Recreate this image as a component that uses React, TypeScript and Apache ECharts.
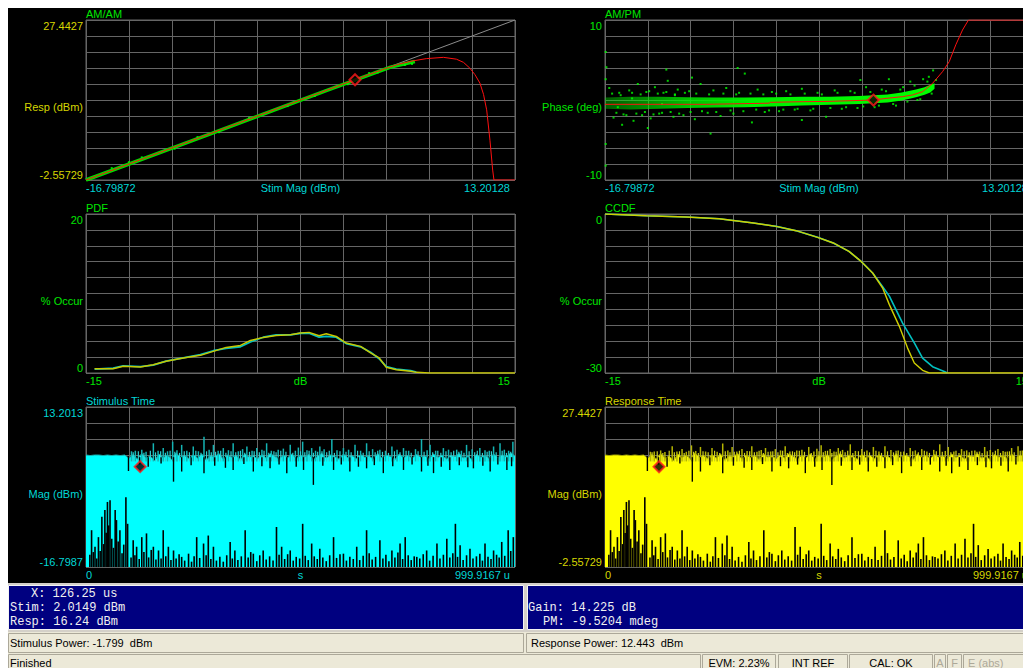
import React, { useEffect, useRef } from 'react';
import * as echarts from 'echarts';

const FONT = "'Liberation Sans', Arial, sans-serif";
const MONO = "'Liberation Mono', 'Courier New', monospace";
const GREEN = '#00e600';
const YELLOW = '#d6d600';
const CYAN = '#00d6d6';
const GRID_COLOR = '#666666';

// ---------- panel texts ----------
const PANEL_TITLES = ['AM/AM', 'AM/PM', 'PDF', 'CCDF', 'Stimulus Time', 'Response Time'];
const X_MIN = [-16.79872, -16.79872, -15, -15, 0, 0];
const X_MAX = [13.20128, 13.20128, 15, 15, 999.9167, 999.9167];
const X_MIN_LABELS = ['-16.79872', '-16.79872', '-15', '-15', '0', '0'];
const X_MAX_LABELS = ['13.20128', '13.20128', '15', '15', '999.9167 u', '999.9167 u'];
const X_NAMES = ['Stim Mag (dBm)', 'Stim Mag (dBm)', 'dB', 'dB', 's', 's'];
const Y_MIN = [-2.55729, -10, 0, -30, -16.7987, -2.55729];
const Y_MAX = [27.4427, 10, 20, 0, 13.2013, 27.4427];
const Y_MIN_LABELS = ['-2.55729', '-10', '0', '-30', '-16.7987', '-2.55729'];
const Y_MAX_LABELS = ['27.4427', '10', '20', '0', '13.2013', '27.4427'];
const Y_NAMES = ['Resp (dBm)', 'Phase (deg)', '% Occur', '% Occur', 'Mag (dBm)', 'Mag (dBm)'];
// [title, y labels, x labels]
const PANEL_COLORS = [
  [GREEN, YELLOW, CYAN],
  [GREEN, GREEN, CYAN],
  [GREEN, GREEN, GREEN],
  [GREEN, GREEN, GREEN],
  [CYAN, CYAN, CYAN],
  [YELLOW, YELLOW, YELLOW],
];

// ---------- marker readout ----------
const MARKER_TIME_US = 126.25;
const MARKER_STIM_DBM = 2.0149;
const MARKER_RESP_DBM = 16.24;
const MARKER_PM_DEG = -0.0095204;

// ---------- AM/AM ----------
const AMAM_IDEAL = [[-16.79872, -2.55729], [13.20128, 27.4427]];
const AMAM_MEASURED = [[-16.79872, -2.55729], [-8, 6.2], [0, 14.2], [4.5, 18.6], [6.2, 19.65]];
const AMAM_OUTLIERS = [
  [-15.0, -0.3], [-12.9, 1.7], [-10.6, 3.3], [-9.0, 5.5], [-7.5, 6.4], [-5.4, 9.1], [-2.7, 11.3],
  [-0.8, 13.2], [1.5, 15.4], [3.0, 17.5], [3.6, 17.6], [5.5, 19.0], [6.0, 19.2], [-13.8, 0.8],
];
const AMAM_MODEL = [
  [-16.79872, -2.55729], [-10, 4.24], [0, 14.24], [2.0, 16.24], [4.0, 18.2], [5.0, 19.1], [6.0, 19.75],
  [7.0, 20.2], [8.2, 20.44], [9.1, 20.1], [9.6, 19.5], [10.05, 18.4], [10.4, 17.2], [10.75, 15.6],
  [11.0, 13.5], [11.22, 10.6], [11.45, 4.9], [11.64, -0.7], [11.73, -2.55729], [13.20128, -2.55729],
];

// ---------- AM/PM ----------
const AMPM_MODEL = [
  [-16.79872, -0.54], [-9.7, -0.54], [-5.3, -0.4], [-5.2, -0.29], [-2.9, -0.21], [-1.1, -0.17],
  [0.6, -0.08], [1.97, 0], [2.9, 0.2], [4.06, 0.42], [4.76, 0.63], [5.46, 1.04], [6.16, 2.08],
  [6.86, 3.54], [7.33, 4.8], [7.79, 6.9], [8.26, 8.75], [8.68, 10], [13.20128, 10],
];
const AMPM_BAND_X = [-16.79872, -15, -13, -11, -9, -7, -5, -3, -1, 1, 2, 3, 4, 5, 5.6, 6.0, 6.3];
const AMPM_BAND_HI = [0.3, 0.4, 0.4, 0.35, 0.3, 0.3, 0.35, 0.4, 0.4, 0.5, 0.6, 0.7, 0.95, 1.3, 1.6, 1.9, 2.1];
const AMPM_BAND_LO = [-1.1, -1.2, -1.1, -1.0, -0.95, -0.9, -0.8, -0.7, -0.6, -0.5, -0.4, -0.3, -0.05, 0.35, 0.65, 0.95, 1.4];
const AMPM_SCATTER = [
  [-16.5, 1.5], [-16.2, -2.2], [-15.8, 0.9], [-15.5, -1.8], [-15.1, 1.2], [-14.8, -2.6], [-14.5, 2.0],
  [-14.2, -1.9], [-13.9, 1.0], [-13.6, -2.3], [-13.3, 1.6], [-13.0, -1.7], [-12.7, 0.9], [-12.4, 2.4],
  [-12.0, -2.1], [-11.7, 1.3], [-11.3, -1.9], [-10.9, 1.1], [-10.5, -2.4], [-10.1, 2.0], [-9.6, -1.6],
  [-9.2, 1.2], [-8.7, -2.0], [-8.3, 1.5], [-7.8, -1.7], [-7.4, 0.9], [-7.0, 3.3], [-6.5, -2.8],
  [-6.1, 1.3], [-5.6, -1.5], [-5.1, 1.0], [-4.6, -1.4], [-4.1, 1.1], [-3.5, -1.2], [-3.0, 1.4],
  [-2.4, -1.3], [-1.9, 0.9], [-1.3, -2.1], [-0.7, 1.2], [-0.2, -1.1], [0.4, 1.1], [0.9, -1.0],
  [1.5, 1.6], [2.1, -0.9], [2.6, 1.3], [3.1, 2.6], [3.6, -0.7], [4.1, 1.6], [4.6, 2.3], [5.1, 0.0],
  [5.5, 2.6], [5.9, 2.9], [6.2, 3.7], [-16.7, 4.1], [-12.5, 3.8], [-7.5, 4.0], [-13.8, -3.5],
  [-9.4, -4.2], [-15.6, -3.1], [-3.0, -2.5], [1.1, 2.5], [-10.7, 2.8], [-16.75, -5.5], [-16.75, -8.2],
  [-16.75, 6.0], [-16.75, 2.6], [-14.9, 0.2], [-11.9, 0.6], [-15.9, -0.9], [-12.8, -0.5],
  [-16.3, 0.8], [-16.0, -1.6], [-15.7, 0.6], [-15.3, -1.9], [-14.9, 0.9], [-14.6, -1.7], [-14.3, 0.7],
  [-14.0, -1.5], [-13.7, 1.1], [-13.4, -1.8], [-13.1, 0.8], [-12.8, -1.6], [-12.5, 1.0], [-12.2, -1.5],
  [-11.9, 0.7], [-11.6, -1.7], [-11.2, 0.9], [-10.8, -1.5], [-10.4, 0.8], [-10.0, -1.4], [-9.5, 0.7],
  [-9.0, -1.5], [-8.5, 0.8], [-8.0, -1.3], [-7.6, 0.7], [-7.1, -1.4], [-6.6, 0.8], [-6.2, -1.2],
  [-5.7, 0.7], [-5.3, -1.3], [-4.8, 0.8], [-4.3, -1.2], [-3.8, 0.7], [-3.3, -1.1], [-2.8, 0.8],
  [-2.2, -1.1], [-1.6, 0.7], [-1.0, -1.0], [-0.5, 0.9], [0.1, -0.9], [0.7, 0.9], [1.3, -0.8],
  [1.8, 1.0], [2.4, -0.7], [2.9, 1.1], [3.4, -0.5], [3.9, 1.3], [4.4, -0.2], [4.9, 1.8], [5.3, 0.1],
  [5.8, 2.3], [6.1, 0.8], [6.4, 2.5],
];

// ---------- PDF ----------
const PDF_X = [-14.4, -13.1, -12.4, -11.2, -10.3, -9.4, -8.2, -7.0, -6.1, -5.2, -4.2, -3.5, -2.6, -1.7, -0.7,
  0.0, 0.6, 1.3, 1.8, 2.5, 3.2, 4.2, 4.9, 5.5, 6.0, 6.7, 7.7, 8.1, 9.0, 15];
const PDF_STIM = [0.5, 0.6, 0.9, 0.8, 1.0, 1.5, 1.9, 2.3, 2.8, 3.1, 3.3, 3.9, 4.5, 4.8, 4.8,
  5.0, 5.0, 4.5, 4.6, 4.5, 3.7, 3.3, 2.6, 1.8, 0.8, 0.5, 0.3, 0.1];
const PDF_RESP = [0.54, 0.54, 0.84, 0.75, 1.05, 1.47, 1.89, 2.22, 2.72, 3.22, 3.47, 4.1, 4.48, 4.73, 4.82,
  5.03, 5.11, 4.69, 4.94, 4.6, 3.77, 3.35, 2.52, 1.89, 0.71, 0.42, 0.21, 0.08, 0, 0];

// ---------- CCDF ----------
const CCDF_STIM = [
  [-15, 0], [-12.1, -0.32], [-9.3, -0.57], [-7.0, -0.89], [-4.6, -1.7], [-3.0, -2.33], [-1.6, -3.15],
  [-0.1, -4.4], [1.0, -5.47], [2.1, -7.05], [2.95, -8.94], [3.76, -11.13], [4.46, -13.7], [4.93, -15.5],
  [5.86, -20.6], [6.68, -24.3], [7.26, -27.2], [7.96, -28.8], [8.78, -29.7], [9.0, -30],
];
const CCDF_RESP = [
  [-15, 0], [-12.1, -0.32], [-9.3, -0.57], [-7.0, -0.89], [-4.6, -1.7], [-3.0, -2.33], [-1.6, -3.15],
  [-0.1, -4.4], [1.0, -5.47], [2.1, -7.05], [2.95, -8.94], [3.76, -11.13], [4.46, -13.96], [4.93, -17.1],
  [5.63, -21.2], [6.21, -25.3], [6.68, -28.1], [7.26, -29.5], [7.73, -30], [15, -30],
];

// ---------- time records (10 us per sample) ----------
const SAMPLE_STEP_US = 10;
const GAIN_DB = 14.24;
const STIM_TOP = [
  4.2, 4.1, 4.2, 4.2, 4.1, 4.2, 4.1, 4.2, 4.1, 4.2,
  3.6, 4.3, 3.4, 4.5, 3.6, 4.0, 3.1, 4.4, 3.7, 4.2,
  3.3, 4.6, 3.8, 4.1, 3.5, 4.3, 3.6, 4.4, 3.2, 4.0,
  3.9, 4.5, 3.4, 4.2, 3.7, 4.1, 3.3, 4.4, 3.8, 4.0,
  3.5, 4.3, 3.6, 4.5, 3.9, 3.4, 4.2, 3.7, 4.4, 3.5,
  4.1, 3.8, 4.3, 3.3, 4.0, 4.5, 3.6, 4.2, 3.9, 3.4,
  4.4, 3.7, 4.1, 3.5, 4.3, 3.8, 4.0, 3.4, 4.5, 3.6,
  4.2, 3.9, 3.3, 4.4, 3.7, 4.1, 3.6, 4.3, 3.8, 4.0,
  3.5, 4.4, 3.7, 4.2, 3.4, 4.1, 3.9, 4.5, 3.6, 4.0,
  3.3, 4.3, 3.8, 4.1, 3.5, 4.4, 3.7, 4.2, 3.9, 4.6, 4.0,
];
const STIM_PEAKS = [
  [106, 4.9], [115, 5.0], [130, 5.2], [140, 4.8], [157, 6.4], [168, 5.0], [180, 5.5], [190, 4.9], [202, 6.7],
  [212, 5.1], [223, 6.1], [235, 5.0], [250, 5.8], [262, 4.9], [275, 7.6], [287, 5.2], [297, 6.1], [308, 5.0],
  [320, 5.5], [332, 5.1], [343, 6.4], [355, 4.9], [365, 5.3], [375, 5.8], [387, 5.0], [398, 5.5], [410, 5.2],
  [421, 6.4], [432, 5.0], [448, 5.2], [460, 5.4], [476, 6.1], [488, 5.0], [495, 5.6], [505, 6.7], [515, 5.1],
  [526, 5.5], [535, 5.0], [545, 5.8], [555, 5.3], [573, 7.2], [585, 5.1], [600, 5.5], [612, 5.2], [627, 6.1],
  [640, 5.0], [654, 6.4], [668, 5.3], [685, 5.2], [698, 5.0], [713, 5.8], [725, 5.2], [740, 5.5], [752, 5.0],
  [768, 5.3], [782, 7.2], [795, 5.1], [802, 6.1], [815, 5.0], [833, 5.5], [845, 5.2], [864, 5.2], [875, 5.0],
  [887, 6.1], [900, 5.3], [918, 5.5], [930, 5.1], [940, 5.0], [950, 5.8], [965, 6.4], [975, 5.2], [985, 5.0],
  [995, 6.7],
];
// short spikes just above the envelope (linear region of the amplifier)
const STIM_SMALL_PEAKS = [
  [110, 4.7], [122, 4.9], [135, 4.6], [150, 5.0], [162, 4.7], [174, 4.9], [185, 4.6], [196, 5.0], [207, 4.8],
  [218, 4.6], [229, 4.9], [241, 4.7], [256, 5.0], [268, 4.6], [281, 4.9], [292, 4.7], [302, 4.8], [314, 5.0],
  [326, 4.6], [338, 4.9], [349, 4.7], [360, 5.0], [370, 4.6], [381, 4.8], [392, 4.9], [404, 4.7], [415, 5.0],
  [426, 4.6], [438, 4.9], [443, 4.7], [454, 5.0], [466, 4.8], [482, 4.6], [500, 4.9], [510, 4.7], [520, 5.0],
  [530, 4.6], [540, 4.8], [550, 4.9], [561, 4.7], [567, 5.0], [579, 4.6], [592, 4.9], [606, 4.8], [618, 4.7],
  [633, 5.0], [646, 4.6], [660, 4.9], [674, 4.7], [680, 5.0], [691, 4.8], [705, 4.6], [719, 4.9], [732, 4.7],
  [746, 5.0], [758, 4.6], [774, 4.9], [788, 4.8], [808, 4.7], [820, 5.0], [827, 4.6], [839, 4.9], [851, 4.7],
  [857, 5.0], [869, 4.8], [881, 4.6], [893, 4.9], [906, 4.7], [912, 5.0], [924, 4.6], [935, 4.8], [945, 4.9],
  [956, 4.7], [970, 5.0], [980, 4.6], [990, 4.8],
];
const RESP_PEAKS = [
  [106, 19.05], [115, 19.1], [130, 19.3], [140, 19.0], [157, 20.1], [168, 19.1], [180, 19.55], [190, 19.05], [202, 20.25],
  [212, 19.2], [223, 19.95], [235, 19.1], [250, 19.75], [262, 19.05], [275, 20.6], [287, 19.3], [297, 19.95], [308, 19.1],
  [320, 19.55], [332, 19.2], [343, 20.1], [355, 19.05], [365, 19.4], [375, 19.75], [387, 19.1], [398, 19.55], [410, 19.3],
  [421, 20.1], [432, 19.1], [448, 19.3], [460, 19.45], [476, 19.95], [488, 19.1], [495, 19.6], [505, 20.25], [515, 19.2],
  [526, 19.55], [535, 19.1], [545, 19.75], [555, 19.4], [573, 20.45], [585, 19.2], [600, 19.55], [612, 19.3], [627, 19.95],
  [640, 19.1], [654, 20.1], [668, 19.4], [685, 19.3], [698, 19.1], [713, 19.75], [725, 19.3], [740, 19.55], [752, 19.1],
  [768, 19.4], [782, 20.45], [795, 19.2], [802, 19.95], [815, 19.1], [833, 19.55], [845, 19.3], [864, 19.3], [875, 19.1],
  [887, 19.95], [900, 19.4], [918, 19.55], [930, 19.2], [940, 19.1], [950, 19.75], [965, 20.1], [975, 19.3], [985, 19.1],
  [995, 20.25],
];
const STIM_DIPS = [
  [99, 1.2], [125, 2.4], [145, 2.0], [175, 2.6], [204, -0.8], [223, 1.1], [245, 2.3], [275, 0.8], [300, 2.2],
  [325, 1.8], [343, 1.4], [368, 2.5], [390, 1.1], [410, 2.1], [429, 1.7], [450, 2.4], [468, 0.8], [490, 2.0],
  [507, 1.4], [530, -1.4], [552, 2.2], [577, 1.4], [595, 2.4], [615, 1.1], [635, 2.0], [654, 1.7], [672, 2.3],
  [693, 0.8], [715, 2.1], [740, 1.4], [760, 2.4], [782, 1.1], [797, 2.2], [810, 0.8], [828, 2.0], [848, 1.4],
  [870, 2.3], [890, 1.9], [903, 1.7], [925, 2.2], [942, 1.1], [960, 2.4], [981, 1.4], [992, 2.1],
];
const STIM_FLOOR_SPIKES = [
  [9, -14.5], [13, -9.9], [17, -14.0], [21, -13.0], [25, -15.2], [29, -11.2], [33, -13.8], [37, -7.4], [41, -12.5],
  [44, -6.1], [47, -10.4], [50, -4.6], [53, -9.0], [56, -4.3], [60, -11.5], [64, -13.2], [68, -6.1], [71, -8.0],
  [75, -12.0], [79, -9.9], [84, -14.2], [88, -12.6], [93, -3.7], [97, -8.7],
  [105, -15.0], [110, -11.8], [114, -14.6], [118, -13.0], [124, -15.3], [130, -11.2], [135, -14.0], [141, -10.5],
  [146, -15.0], [152, -13.6], [157, -13.0], [163, -15.4], [169, -13.7], [175, -15.2], [180, -9.9], [186, -14.8],
  [192, -13.0], [198, -15.5], [204, -13.7], [210, -15.2], [217, -14.4], [223, -14.9], [230, -15.6], [239, -14.3],
  [246, -15.8], [252, -14.8], [258, -11.2], [265, -15.1], [274, -12.4], [280, -14.6], [285, -10.9], [291, -15.3],
  [297, -13.0], [304, -15.6], [312, -14.9], [320, -15.8], [328, -14.6], [336, -12.1], [341, -15.2], [347, -13.7],
  [354, -15.5], [362, -14.8], [371, -9.9], [378, -15.0], [384, -14.0], [390, -14.3], [398, -15.7], [405, -14.6],
  [413, -13.7], [420, -15.4], [428, -14.8], [436, -15.6], [444, -9.3], [450, -14.5], [456, -13.0], [463, -15.3],
  [470, -14.4], [476, -13.7], [483, -15.6], [490, -14.9], [498, -15.2], [505, -8.7], [511, -14.7], [518, -15.5],
  [526, -12.4], [532, -14.8], [539, -15.3], [545, -13.4], [552, -15.0], [560, -15.7], [568, -14.6], [577, -11.2],
  [584, -15.1], [592, -14.4], [600, -14.3], [607, -15.6], [615, -14.9], [623, -15.3], [631, -13.0], [638, -15.5],
  [646, -14.7], [654, -9.9], [660, -14.2], [667, -15.4], [675, -14.9], [685, -11.8], [692, -15.2], [699, -14.5],
  [706, -15.7], [713, -13.7], [720, -15.0], [727, -14.1], [732, -12.4], [738, -15.3], [744, -11.2], [751, -14.6],
  [758, -15.5], [765, -14.8], [771, -14.9], [778, -15.2], [786, -14.4], [794, -13.7], [801, -15.6], [809, -14.7],
  [818, -12.4], [825, -15.2], [833, -14.5], [841, -11.5], [848, -15.0], [855, -14.2], [861, -8.7], [866, -14.9],
  [872, -12.7], [879, -15.5], [887, -14.6], [895, -13.4], [902, -15.2], [910, -14.8], [918, -14.3], [924, -15.6],
  [930, -12.4], [937, -14.9], [944, -15.3], [950, -13.7], [957, -14.5], [963, -15.0], [969, -12.1], [976, -14.7],
  [984, -9.9], [990, -13.8], [996, -11.2],
];

// ---------- readout texts ----------
const READOUT_LEFT = ['X: 126.25 us', 'Stim: 2.0149 dBm', 'Resp: 16.24 dBm'];
const READOUT_RIGHT = ['Gain: 14.225 dB', 'PM: -9.5204 mdeg'];
const POWER_TEXTS = ['Stimulus Power: -1.799  dBm', 'Response Power: 12.443  dBm'];
const STATUS_TEXTS = ['Finished', 'EVM: 2.23%', 'INT REF', 'CAL: OK', 'A', 'F', 'E (abs)'];

// ---------- layout ----------
const COL_LEFT = [78, 597];
const COL_WIDTH = [429, 428];
const ROW_TOP = [12, 206, 399];
const ROW_HEIGHT = [160, 159, 160];

function labelFormatter(min: number, max: number, minL: string, maxL: string) {
  return (v: number) => (Math.abs(v - min) < 1e-9 ? minL : Math.abs(v - max) < 1e-9 ? maxL : '');
}

function txt(x: number, y: number, text: string, fill: string, font: string, size: number, align = 'left') {
  return {
    type: 'text', x, y, silent: true, z: 50,
    style: { text, fill, fontSize: size, fontFamily: font, align, textAlign: align, verticalAlign: 'middle', textVerticalAlign: 'middle' },
  };
}
function rect(x: number, y: number, w: number, h: number, fill: string, stroke?: string) {
  return {
    type: 'rect', silent: true, z: 40, shape: { x, y, width: w, height: h },
    style: { fill, stroke: stroke || null, lineWidth: stroke ? 1 : 0 },
  };
}

function vlines(panel: number, data: number[][], from: number, color: string, width: number, z: number) {
  return {
    type: 'custom', xAxisIndex: panel * 2, yAxisIndex: panel * 2, data, encode: { x: 0, y: 1 },
    silent: true, clip: true, z,
    renderItem: (_p: any, api: any) => {
      const t = api.value(0);
      const a = api.coord([t, from]);
      const b = api.coord([t, api.value(1)]);
      return { type: 'line', shape: { x1: a[0], y1: a[1], x2: b[0], y2: b[1] }, style: { stroke: color, lineWidth: width } };
    },
  };
}

function lineS(panel: number, data: number[][], color: string, width: number, z = 3) {
  return {
    type: 'line', xAxisIndex: panel * 2, yAxisIndex: panel * 2, data, symbol: 'none', silent: true, z,
    lineStyle: { color, width }, clip: true,
  };
}
function markerS(panel: number, x: number, y: number) {
  return {
    type: 'scatter', xAxisIndex: panel * 2, yAxisIndex: panel * 2, data: [[x, y]], symbol: 'diamond', symbolSize: 11,
    silent: true, z: 20, itemStyle: { color: '#000', borderColor: '#ff1a1a', borderWidth: 2 },
  };
}

function buildOption() {
  const grid: any[] = [];
  const xAxis: any[] = [];
  const yAxis: any[] = [];
  const series: any[] = [];
  const graphic: any[] = [];

  for (let i = 0; i < 6; i++) {
    const col = i % 2;
    const row = Math.floor(i / 2);
    const left = COL_LEFT[col];
    const top = ROW_TOP[row];
    const width = COL_WIDTH[col];
    const height = ROW_HEIGHT[row];
    const [tc, yc, xc] = PANEL_COLORS[i];
    grid.push({
      left, top, width, height, show: true, borderColor: GRID_COLOR, borderWidth: 1, backgroundColor: 'transparent',
      containLabel: false, outerBoundsMode: 'none',
    });
    xAxis.push({
      type: 'value', gridIndex: i, min: X_MIN[i], max: X_MAX[i],
      axisLine: { show: false }, axisTick: { show: false }, splitLine: { show: false },
      axisLabel: {
        show: true, color: xc, fontSize: 11, fontFamily: FONT, margin: 2, padding: [0, 5, 0, 0],
        showMinLabel: true, showMaxLabel: true, alignMinLabel: 'left', alignMaxLabel: 'right',
        formatter: labelFormatter(X_MIN[i], X_MAX[i], X_MIN_LABELS[i], X_MAX_LABELS[i]),
      },
    });
    xAxis.push({
      type: 'value', gridIndex: i, min: 0, max: 10, interval: 1,
      axisLine: { show: false }, axisTick: { show: false }, axisLabel: { show: false },
      splitLine: { show: true, lineStyle: { color: GRID_COLOR, width: 1 } },
    });
    yAxis.push({
      type: 'value', gridIndex: i, min: Y_MIN[i], max: Y_MAX[i],
      axisLine: { show: false }, axisTick: { show: false }, splitLine: { show: false },
      axisLabel: {
        show: true, color: yc, fontSize: 11, fontFamily: FONT, margin: 3,
        showMinLabel: true, showMaxLabel: true, verticalAlignMinLabel: 'bottom', verticalAlignMaxLabel: 'top',
        formatter: labelFormatter(Y_MIN[i], Y_MAX[i], Y_MIN_LABELS[i], Y_MAX_LABELS[i]),
      },
    });
    yAxis.push({
      type: 'value', gridIndex: i, min: 0, max: 10, interval: 1,
      axisLine: { show: false }, axisTick: { show: false }, axisLabel: { show: false },
      splitLine: { show: true, lineStyle: { color: GRID_COLOR, width: 1 } },
    });
    graphic.push(txt(left, top - 6, PANEL_TITLES[i], tc, FONT, 11));
    graphic.push(txt(left + width / 2, top + height + 8, X_NAMES[i], xc, FONT, 11, 'center'));
    graphic.push(txt(left - 3, top + height / 2 + 7, Y_NAMES[i], yc, FONT, 11, 'right'));
  }

  // AM/AM (panel 0)
  series.push(lineS(0, AMAM_IDEAL, '#8c8c8c', 1, 2));
  series.push(lineS(0, AMAM_MEASURED, '#00dd00', 3.5, 3));
  series.push({
    type: 'scatter', xAxisIndex: 0, yAxisIndex: 0, data: AMAM_OUTLIERS, symbol: 'rect', symbolSize: 2,
    silent: true, z: 3, itemStyle: { color: '#00ff00' },
  });
  series.push(lineS(0, AMAM_MODEL, '#ff1010', 1, 4));
  series.push(markerS(0, MARKER_STIM_DBM, MARKER_RESP_DBM));

  // AM/PM (panel 1)
  const bandGradient = new echarts.graphic.LinearGradient(0, 0, 1, 0, [
    { offset: 0, color: 'rgba(0,230,0,0.4)' },
    { offset: 0.25, color: 'rgba(0,240,0,0.8)' },
    { offset: 0.45, color: '#00f000' },
    { offset: 1, color: '#00ff00' },
  ]);
  series.push({
    type: 'custom', xAxisIndex: 2, yAxisIndex: 2, silent: true, z: 2, clip: true,
    data: AMPM_BAND_X.map((x, k) => [x, AMPM_BAND_LO[k], AMPM_BAND_HI[k]]),
    encode: { x: 0, y: [1, 2] },
    renderItem: (params: any, api: any) => {
      if (params.dataIndex !== 0) return null;
      const up = AMPM_BAND_X.map((x, k) => api.coord([x, AMPM_BAND_HI[k]]));
      const lo = AMPM_BAND_X.map((x, k) => api.coord([x, AMPM_BAND_LO[k]])).reverse();
      return { type: 'polygon', shape: { points: up.concat(lo) }, style: { fill: bandGradient } };
    },
  });
  series.push({
    type: 'scatter', xAxisIndex: 2, yAxisIndex: 2, data: AMPM_SCATTER, symbol: 'rect', symbolSize: 2,
    silent: true, z: 3, itemStyle: { color: '#00ff00' },
  });
  series.push(lineS(1, AMPM_MODEL, '#ff1010', 1, 4));
  series.push(markerS(1, MARKER_STIM_DBM, MARKER_PM_DEG));

  // PDF (panel 2)
  series.push(lineS(2, PDF_STIM.map((v, k) => [PDF_X[k], v]), '#00c0c0', 1.8, 3));
  series.push(lineS(2, PDF_RESP.map((v, k) => [PDF_X[k], v]), '#c8c800', 1.5, 4));

  // CCDF (panel 3)
  series.push(lineS(3, CCDF_STIM, '#00c0c0', 1.6, 3));
  series.push(lineS(3, CCDF_RESP, '#d0d000', 1.4, 4));

  // Stimulus time (panel 4)
  const stimTop = STIM_TOP.map((v, k) => [k * SAMPLE_STEP_US, v]);
  series.push({
    type: 'line', xAxisIndex: 8, yAxisIndex: 8, data: stimTop, symbol: 'none', silent: true, z: 2, clip: true,
    lineStyle: { color: '#18a8a8', width: 1 }, areaStyle: { color: '#00ffff', origin: 'start', opacity: 1 },
  });
  series.push(vlines(4, STIM_SMALL_PEAKS, 3.0, '#30d0d0', 1.2, 3));
  series.push(vlines(4, STIM_PEAKS, 3.0, '#14b4b4', 1.5, 3));
  series.push(vlines(4, STIM_DIPS, 3.8, '#000000', 1.4, 4));
  series.push(vlines(4, STIM_FLOOR_SPIKES, Y_MIN[4], '#000000', 1.6, 5));
  series.push(markerS(4, MARKER_TIME_US, MARKER_STIM_DBM));

  // Response time (panel 5): stimulus record through the measured linear gain; large peaks read separately
  const respTop = STIM_TOP.map((v, k) => [k * SAMPLE_STEP_US, v + GAIN_DB]);
  series.push({
    type: 'line', xAxisIndex: 10, yAxisIndex: 10, data: respTop, symbol: 'none', silent: true, z: 2, clip: true,
    lineStyle: { color: '#a8a800', width: 1 }, areaStyle: { color: '#ffff00', origin: 'start', opacity: 1 },
  });
  series.push(vlines(5, STIM_SMALL_PEAKS.map(([t, v]) => [t, v + GAIN_DB]), 3.0 + GAIN_DB, '#d0d020', 1.2, 3));
  series.push(vlines(5, RESP_PEAKS, 3.0 + GAIN_DB, '#b4b400', 1.5, 3));
  series.push(vlines(5, STIM_DIPS.map(([t, v]) => [t, v + GAIN_DB]), 3.8 + GAIN_DB, '#000000', 1.4, 4));
  series.push(vlines(5, STIM_FLOOR_SPIKES.map(([t, v]) => [t, v + GAIN_DB]), Y_MIN[5], '#000000', 1.6, 5));
  series.push(markerS(5, MARKER_TIME_US, MARKER_RESP_DBM));

  // ---------- bottom panels ----------
  graphic.push(rect(0, 575, 1040, 85, '#d4d0c8'));
  graphic.push(rect(0.5, 577.5, 515, 44, '#000080', '#f4f4f4'));
  graphic.push(rect(519.5, 577.5, 520, 44, '#000080', '#f4f4f4'));
  graphic.push(txt(23, 585.5, READOUT_LEFT[0], '#f0f0f0', MONO, 12));
  graphic.push(txt(2, 599.5, READOUT_LEFT[1], '#f0f0f0', MONO, 12));
  graphic.push(txt(2, 613.5, READOUT_LEFT[2], '#f0f0f0', MONO, 12));
  graphic.push(txt(520, 599.5, READOUT_RIGHT[0], '#f0f0f0', MONO, 12));
  graphic.push(txt(535, 613.5, READOUT_RIGHT[1], '#f0f0f0', MONO, 12));

  graphic.push(rect(0, 624, 1040, 36, '#ece9d8'));
  graphic.push(rect(0.5, 625.5, 515, 19, '#ece9d8', '#aca899'));
  graphic.push(rect(518.5, 625.5, 520, 19, '#ece9d8', '#aca899'));
  graphic.push(txt(2, 635, POWER_TEXTS[0], '#000', FONT, 11));
  graphic.push(txt(523, 635, POWER_TEXTS[1], '#000', FONT, 11));

  const panes = [[0.5, 692], [694.5, 73], [770.5, 69], [841.5, 83], [926.5, 11], [939.5, 14], [955.5, 80]];
  panes.forEach(([x, w]) => graphic.push(rect(x, 646.5, w, 16, '#ece9d8', '#aca899')));
  graphic.push(txt(2, 654.5, STATUS_TEXTS[0], '#000', FONT, 11));
  graphic.push(txt(731, 654.5, STATUS_TEXTS[1], '#000', FONT, 11, 'center'));
  graphic.push(txt(805, 654.5, STATUS_TEXTS[2], '#000', FONT, 11, 'center'));
  graphic.push(txt(883, 654.5, STATUS_TEXTS[3], '#000', FONT, 11, 'center'));
  graphic.push(txt(932, 654.5, STATUS_TEXTS[4], '#aca899', FONT, 11, 'center'));
  graphic.push(txt(946.5, 654.5, STATUS_TEXTS[5], '#aca899', FONT, 11, 'center'));
  graphic.push(txt(960, 654.5, STATUS_TEXTS[6], '#aca899', FONT, 11));

  return {
    animation: false,
    backgroundColor: '#000000',
    grid, xAxis, yAxis, series, graphic,
  };
}

export default function App() {
  const ref = useRef<HTMLDivElement>(null);
  useEffect(() => {
    if (!ref.current) return;
    const chart = echarts.init(ref.current, null, { renderer: 'svg' });
    chart.setOption(buildOption() as any);
    return () => chart.dispose();
  }, []);
  return (
    <div style={{ position: 'fixed', left: 8, top: 8, width: 1015, height: 660, overflow: 'hidden', background: '#000' }}>
      <div ref={ref} style={{ width: 1040, height: 660 }} />
    </div>
  );
}
